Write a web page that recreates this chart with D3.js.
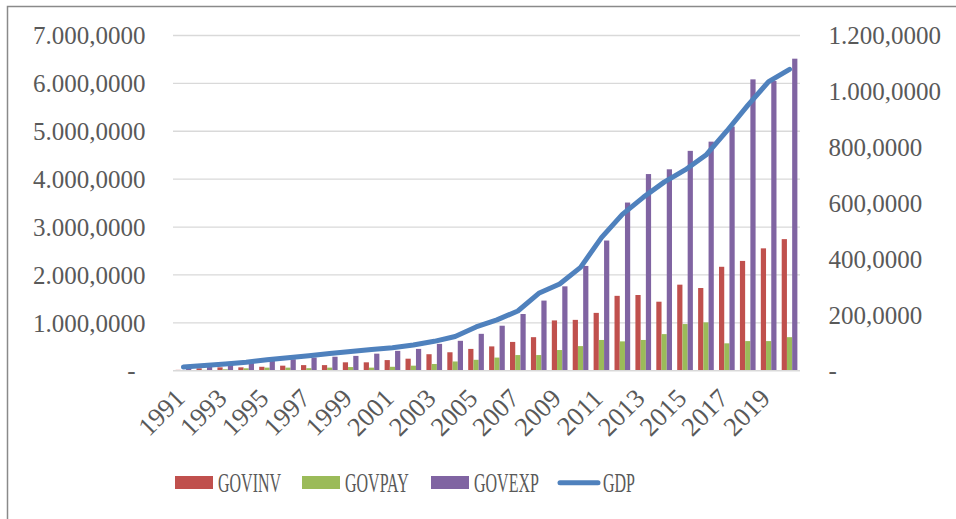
<!DOCTYPE html>
<html>
<head>
<meta charset="utf-8">
<script src="https://cdnjs.cloudflare.com/ajax/libs/d3/7.8.5/d3.min.js"></script>
<style>
  html, body { margin: 0; padding: 0; background: #ffffff; }
  svg { display: block; }
  text { font-family: "Liberation Serif", "DejaVu Serif", serif; fill: #595959; }
</style>
</head>
<body>
<svg id="chart" width="956" height="519"></svg>
<script>
// ---------- DATA ----------
const years = d3.range(1991, 2021).map(String);
const xTickLabels = ["1991","1993","1995","1997","1999","2001","2003","2005","2007","2009","2011","2013","2015","2017","2019"];
const seriesNames = ["GOVINV", "GOVPAY", "GOVEXP", "GDP"];

// bars (right axis)
const govinv = [3, 8.6, 12, 12, 14, 18, 20, 20, 30, 30, 38, 43, 59, 66, 78, 87, 103, 120, 180, 182, 207, 268, 271, 247, 308, 296, 372, 393, 438, 471];
const govpay = [1.5, 3, 5, 8.6, 11, 11, 9, 11, 13, 11, 14, 18, 24, 33, 39, 47, 56, 56, 74, 88, 110, 105, 110, 131, 167, 173, 98, 106, 106, 120];
const govexp = [10, 17, 27, 30, 38, 41, 47, 50, 53, 61, 71, 78, 96, 107, 132, 161, 203, 251, 302, 375, 466, 602, 704, 721, 787, 820, 874, 1043, 1037, 1117];
// line (left axis)
const gdp = [76.7, 110.5, 140.3, 178.5, 228.9, 272.0, 313.6, 361.0, 399.9, 441.6, 481.3, 535.8, 613.4, 715.3, 914.0, 1061.6, 1246.8, 1616.0, 1809.1, 2157.8, 2779.9, 3265, 3620, 3937.9, 4192.9, 4502.7, 5006.0, 5542.3, 6037.3, 6293.1];

const leftTicks = [0, 1000, 2000, 3000, 4000, 5000, 6000, 7000];
const rightTicks = [0, 200, 400, 600, 800, 1000, 1200];

const colors = { GOVINV: "#C0504D", GOVPAY: "#9BBB59", GOVEXP: "#8064A2", GDP: "#4F81BD" };

// ---------- LAYOUT ----------
const svg = d3.select("#chart");
const plot = { left: 173, right: 800, top: 35.5, bottom: 370.7 };

const locale = d3.formatLocale({ decimal: ",", thousands: ".", grouping: [3], currency: ["", ""] });
const fmt = locale.format(",.4f");
const tickFmt = v => v === 0 ? "-" : fmt(v);

const x = d3.scaleBand().domain(years).range([plot.left, plot.right]).padding(0);
const groupW = x.bandwidth() * 0.75;
const xs = d3.scaleBand().domain(["GOVINV", "GOVPAY", "GOVEXP"]).range([0, groupW]).padding(0);
const yL = d3.scaleLinear().domain([0, 7000]).range([plot.bottom, plot.top]);
const yR = d3.scaleLinear().domain([0, 1200]).range([plot.bottom, plot.top]);

// frame (only top and left edges visible in reference)
svg.append("rect")
  .attr("x", 7.5).attr("y", 6.5).attr("width", 1000).attr("height", 1000)
  .attr("fill", "none").attr("stroke", "#8a8a8a").attr("stroke-width", 1.5);

// gridlines
svg.append("g").selectAll("line").data(leftTicks.filter(d => d > 0)).join("line")
  .attr("x1", plot.left).attr("x2", plot.right)
  .attr("y1", d => yL(d)).attr("y2", d => yL(d))
  .attr("stroke", "#D9D9D9").attr("stroke-width", 1.3);

// left axis labels
const leftAxis = d3.axisLeft(yL).tickValues(leftTicks).tickFormat(tickFmt).tickSize(0).tickPadding(0);
const gL = svg.append("g").attr("transform", `translate(145.5,0)`).call(leftAxis);
gL.select(".domain").remove();
gL.selectAll("text").attr("font-size", 25).attr("font-family", "Liberation Serif").attr("fill", "#595959")
  .attr("dy", "0.33em")
  .attr("dx", d => d === 0 ? -10 : 0);

// right axis labels
const rightAxis = d3.axisRight(yR).tickValues(rightTicks).tickFormat(tickFmt).tickSize(0).tickPadding(0);
const gR = svg.append("g").attr("transform", `translate(828.5,0)`).call(rightAxis);
gR.select(".domain").remove();
gR.selectAll("text").attr("font-size", 25).attr("font-family", "Liberation Serif").attr("fill", "#595959")
  .attr("dy", "0.33em");

// bars
const barSeries = [["GOVINV", govinv], ["GOVPAY", govpay], ["GOVEXP", govexp]];
const barG = svg.append("g");
barSeries.forEach(([name, vals]) => {
  barG.append("g").selectAll("rect").data(vals).join("rect")
    .attr("x", (d, i) => x(years[i]) + (x.bandwidth() - groupW) / 2 + xs(name))
    .attr("width", xs.bandwidth())
    .attr("y", d => yR(d))
    .attr("height", d => yR(0) - yR(d))
    .attr("fill", colors[name]);
});

// x baseline
svg.append("line")
  .attr("x1", plot.left).attr("x2", plot.right)
  .attr("y1", yL(0)).attr("y2", yL(0))
  .attr("stroke", "#D9D9D9").attr("stroke-width", 1.5);

// GDP line
const line = d3.line()
  .x((d, i) => x(years[i]) + x.bandwidth() / 2)
  .y(d => yL(d));
svg.append("path").datum(gdp)
  .attr("d", line)
  .attr("fill", "none").attr("stroke", colors.GDP)
  .attr("stroke-width", 5).attr("stroke-linejoin", "round").attr("stroke-linecap", "round");

// x labels (rotated)
const xAxis = d3.axisBottom(x).tickValues(xTickLabels).tickSize(0).tickPadding(0);
const gX = svg.append("g").attr("transform", `translate(0,0)`).call(xAxis);
gX.select(".domain").remove();
gX.selectAll(".tick").attr("transform", d => `translate(${x(d) + x.bandwidth() / 2 + 3},400)`);
gX.selectAll("text")
  .attr("y", 0).attr("dy", 0)
  .attr("font-size", 26.5).attr("font-family", "Liberation Serif").attr("fill", "#595959")
  .attr("text-anchor", "end")
  .attr("transform", "rotate(-45)");

// legend
const legendItems = [
  { name: "GOVINV", type: "rect", sx: 175, tx: 218 },
  { name: "GOVPAY", type: "rect", sx: 302, tx: 345 },
  { name: "GOVEXP", type: "rect", sx: 431, tx: 474 },
  { name: "GDP", type: "line", sx: 558, tx: 603 }
];
const lg = svg.append("g");
legendItems.forEach(it => {
  if (it.type === "rect") {
    lg.append("rect").attr("x", it.sx).attr("y", 476).attr("width", 38).attr("height", 13)
      .attr("fill", colors[it.name]);
  } else {
    lg.append("line").attr("x1", it.sx + 2).attr("x2", it.sx + 40).attr("y1", 482.7).attr("y2", 482.7)
      .attr("stroke", colors[it.name]).attr("stroke-width", 5).attr("stroke-linecap", "round");
  }
  lg.append("text")
    .attr("transform", `translate(${it.tx},491.7) scale(1,1.7)`)
    .attr("font-size", 16).attr("fill", "#595959")
    .text(it.name);
});
</script>
</body>
</html>
